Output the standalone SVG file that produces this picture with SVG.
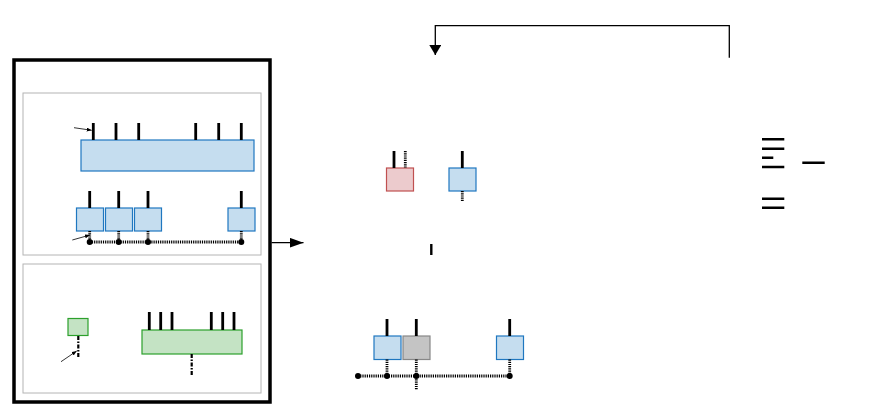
<svg xmlns="http://www.w3.org/2000/svg" width="871" height="409" viewBox="0 0 871 409">
<style>
.pin{stroke:#000;stroke-width:2.8;fill:none}
.dot{stroke:#000;stroke-width:2.8;stroke-dasharray:1.2 1;fill:none}
.dd{stroke:#000;stroke-width:2.2;stroke-dasharray:4 1.5 1.5 1.5;fill:none}
.thin{stroke:#000;stroke-width:0.8;fill:none}
.blue{fill:#c5ddef;stroke:#1f77c0;stroke-width:1.2}
.green{fill:#c4e3c4;stroke:#2ca02c;stroke-width:1.2}
.red{fill:#eccbcd;stroke:#c05050;stroke-width:1.2}
.gray{fill:#c4c4c4;stroke:#888;stroke-width:1.2}
.panel{fill:#fff;stroke:#b4b4b4;stroke-width:1}
.bar{stroke:#000;stroke-width:2.4}
</style>
<defs>
<marker id="ah" viewBox="0 0 10 10" refX="10" refY="5" markerWidth="10" markerHeight="12" markerUnits="userSpaceOnUse" orient="auto" preserveAspectRatio="none"><path d="M0,0 L10,5 L0,10 z" fill="#000"/></marker>
<marker id="ahL" viewBox="0 0 10 10" refX="10" refY="5" markerWidth="14" markerHeight="10" markerUnits="userSpaceOnUse" orient="auto" preserveAspectRatio="none"><path d="M0,0 L10,5 L0,10 z" fill="#000"/></marker>
<marker id="sm" viewBox="0 0 10 10" refX="10" refY="5" markerWidth="5" markerHeight="4" markerUnits="userSpaceOnUse" orient="auto" preserveAspectRatio="none"><path d="M0,0 L10,5 L0,10 z" fill="#000"/></marker>
</defs>
<rect width="871" height="409" fill="#fff"/>

<g id="outer">
<rect x="14" y="60" width="256" height="342" fill="#fff" stroke="#000" stroke-width="3.5"/>
</g>

<g id="panel-top">
<rect class="panel" x="23" y="93" width="238" height="162"/>
<rect class="blue" x="81" y="140" width="173" height="31"/>
<path class="pin" d="M93.3,123V140M116,123V140M138.7,123V140M195.7,123V140M218.7,123V140M241.3,123V140"/>
<rect class="blue" x="76.5" y="208" width="27" height="23"/>
<rect class="blue" x="105.5" y="208" width="27" height="23"/>
<rect class="blue" x="134.5" y="208" width="27" height="23"/>
<rect class="blue" x="228" y="208" width="27" height="23"/>
<path class="pin" d="M89.7,191V208M118.7,191V208M148,191V208M241.3,191V208"/>
<path class="dot" d="M89.7,231V242M118.7,231V242M148,231V242M241.3,231V242M89.7,242H241.3"/>
<circle cx="89.7" cy="242" r="3"/><circle cx="118.7" cy="242" r="3"/><circle cx="148" cy="242" r="3"/><circle cx="241.3" cy="242" r="3"/>
</g>

<g id="panel-bottom">
<rect class="panel" x="23" y="264" width="238" height="129"/>
<rect class="green" x="68" y="318.5" width="20" height="17"/>
<path class="dd" d="M78.3,336V357"/>
<rect class="green" x="142" y="330" width="100" height="24"/>
<path class="pin" d="M149.3,312V330M160.7,312V330M172,312V330M211.3,312V330M222.7,312V330M234,312V330"/>
<path class="dd" d="M191.7,354V375"/>
</g>

<g id="mid-top">
<rect class="red" x="386.5" y="168" width="27" height="23"/>
<path class="pin" d="M394,151V168"/>
<path class="dot" d="M405.3,151V168"/>
<rect class="blue" x="449" y="168" width="27" height="23"/>
<path class="pin" d="M462.3,151V168"/>
<path class="dot" d="M462.3,191V201"/>
<path class="bar" d="M431.3,244V255" stroke-width="2.6"/>
</g>

<g id="mid-bottom">
<rect class="blue" x="374" y="336" width="27" height="23.5"/>
<rect class="gray" x="403" y="336" width="27" height="23.5"/>
<rect class="blue" x="496.5" y="336" width="27" height="23.5"/>
<path class="pin" d="M387,319V336M416.3,319V336M509.7,319V336"/>
<path class="dot" d="M387,359.5V376M416.3,359.5V390M509.7,359.5V376M358,376H509.7"/>
<circle cx="358" cy="376" r="3"/><circle cx="387" cy="376" r="3"/><circle cx="416.3" cy="376" r="3"/><circle cx="509.7" cy="376" r="3"/>
</g>

<g id="legend">
<path class="bar" d="M762,139.3H784.3M762,148.7H784.3M762,157.7H773.3M762,167H784.3M802.3,162.7H824.7M762,198.7H784.3M762,207.7H784.3"/>
</g>

<g id="connectors">
<path d="M729.3,57.7V25.7H435.3V55" fill="none" stroke="#000" stroke-width="1.3" marker-end="url(#ah)"/>
<path d="M271.5,242.7H303.5" fill="none" stroke="#000" stroke-width="1.3" marker-end="url(#ahL)"/>
<path class="thin" d="M74,127.7L91.7,130.3" marker-end="url(#sm)"/>
<path class="thin" d="M72.3,240L90,235" marker-end="url(#sm)"/>
<path class="thin" d="M61,361.7L76.7,351" marker-end="url(#sm)"/>
</g>
</svg>
